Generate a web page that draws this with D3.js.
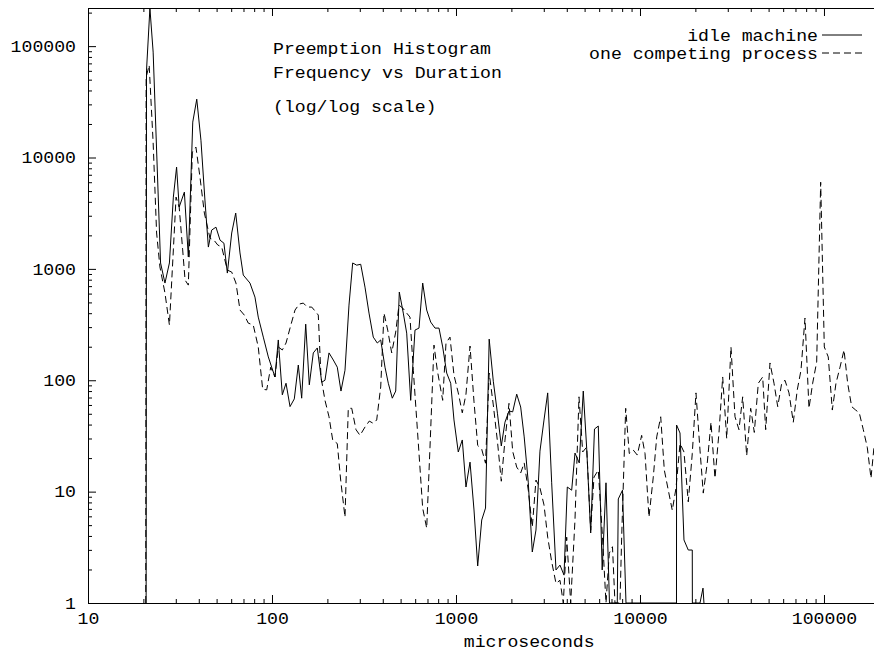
<!DOCTYPE html>
<html>
<head>
<meta charset="utf-8">
<script src="https://cdn.jsdelivr.net/npm/d3@7/dist/d3.min.js"></script>
<style>
body { margin: 0; background: #fff; }
text { font-family: "Liberation Mono", "DejaVu Sans Mono", monospace; font-size: 16px; fill: #000; }
</style>
</head>
<body>
<div id="chart"></div>
<script>
// idle machine: duration (us) / count
var idleDur = [20.7, 20.8, 21.7, 22.6, 24.8, 26.2, 27.7, 29.1, 30.3, 31.3, 33.4, 35.1, 37.1, 39.0, 41.1, 43.2, 45.1, 47.0, 49.6, 52.2,
  54.8, 57.2, 60.4, 63.5, 67.0, 69.8, 75.9, 80.8, 84.2, 89.7, 95.5, 99.6, 103.8, 108.2, 113.8, 119.2, 125.3, 132.2, 139.0, 145.0,
  152.5, 159.5, 167.7, 176.3, 186.3, 194.1, 204.1, 215.4, 226.4, 237.1, 249.3, 262.1, 274.5, 288.6, 303.5, 320.2, 336.7, 355.2, 373.5, 389.8,
  411.3, 428.7, 450.7, 470.3, 491.9, 517.1, 539.6, 567.3, 598.7, 629.4, 659.2, 693.1, 728.7, 769.0, 808.4, 846.7, 890.3, 935.9, 975.2, 1029,
  1082, 1133, 1192, 1253, 1312, 1380, 1447, 1515, 1595, 1681, 1763, 1846, 1941, 2033, 2138, 2247, 2348, 2472, 2598, 2721,
  2860, 3008, 3151, 3312, 3495, 3674, 3864, 4027, 4254, 4434, 4678, 4918, 5132, 5396, 5658, 5934, 6232, 6535, 6826, 7526,
  7622, 8033, 8393, 15790, 15810, 16500, 17340, 18300, 19240, 19260, 21190, 22000, 22270];
var idleCount = [1, 60900, 219000, 88400, 1130, 746, 1130, 4410, 8200, 3590, 4890, 1280, 20800, 33400, 14300, 4150, 1570, 2230, 2370, 1810,
  1700, 917, 2100, 3170, 1390, 880, 746, 558, 369, 244, 162, 131, 107, 230, 74, 94, 58, 68, 137, 69,
  319, 91, 176, 195, 96, 100, 176, 152, 131, 80, 123, 473, 1130, 1080, 1100, 686, 401, 244, 216, 230,
  131, 94, 69, 80, 619, 401, 265, 66, 282, 294, 746, 427, 333, 294, 294, 199, 116, 94, 44, 22.7,
  29.1, 11.0, 18.4, 6.84, 2.15, 5.56, 7.12, 234, 98, 50, 25.7, 42, 53, 52, 75, 57.5, 31, 12, 2.87, 4.52,
  23.1, 43.9, 77, 12, 1.98, 2.19, 1.78, 11.0, 10.3, 22.2, 18.1, 80, 24.6, 4.25, 36.5, 38.8, 1.98, 12, 1, 1,
  8.6, 10.3, 1, 1, 39.6, 33.6, 3.68, 2.99, 2.99, 1, 1, 1.36, 1];

// one competing process: duration (us) / count
var busyDur = [20.6, 20.7, 21.5, 22.6, 23.6, 24.6, 26.2, 27.7, 29.1, 30.1, 31.3, 32.7, 33.7, 35.1, 36.9, 38.6, 40.6, 42.9, 46.0, 48.4,
  50.7, 53.3, 57.2, 60.4, 63.7, 67.0, 70.7, 74.3, 79.1, 84.2, 89.0, 93.6, 98.4, 103.8, 108.2, 113.8, 119.2, 125.3, 133.4, 140.7,
  148.0, 155.5, 164.4, 173.4, 178.5, 184.6, 194.1, 204.1, 213.8, 226.4, 236.2, 249.3, 259.8, 271.3, 286.1, 300.8, 320.2, 337.9, 355.2, 370.7,
  389.8, 406.2, 425.5, 447.3, 470.3, 490.0, 513.2, 539.6, 562.3, 586.2, 624.0, 659.2, 693.1, 722.3, 759.3, 791.5, 846.7, 882.5, 927.7, 975.2,
  1029, 1082, 1133, 1192, 1253, 1312, 1380, 1447, 1515, 1595, 1681, 1763, 1846, 1941, 2033, 2138, 2247, 2348, 2472, 2598,
  2721, 2860, 3008, 3151, 3304, 3495, 3674, 3830, 3996, 4201, 4434, 4661, 4882, 5132, 5396, 5623, 5934, 6255, 6535, 6810,
  7088, 7313, 7785, 7952, 8362, 8746, 9196, 9667, 10210, 10650, 11190, 11810, 12330, 12960, 13560, 14250, 14980, 15700, 16500, 17340,
  18300, 19240, 20150, 21190, 22080, 23210, 24320, 25560, 26880, 28150, 29600, 31230, 32840, 34510, 36150, 38010, 39960, 41810, 43960, 46440,
  48220, 50880, 53500, 56040, 58910, 61380, 64540, 68100, 71590, 74990, 78840, 82880, 86800, 91270, 95960, 100400, 105500, 111000, 116200, 122200,
  128500, 134500, 141400, 148700, 155500, 163600, 171900, 180100, 186900];
var busyCount = [1, 52700, 67500, 13500, 2100, 1040, 607, 313, 1480, 4410, 3590, 1480, 793, 715, 11200, 12400, 6670, 3170, 1890, 1810,
  1640, 1570, 975, 936, 746, 427, 385, 326, 313, 199, 83, 82, 131, 107, 199, 187, 216, 294, 427, 483,
  493, 454, 454, 409, 385, 107, 66, 47, 29, 27, 12.7, 5.9, 56, 56, 36, 32, 38, 43, 41, 44,
  87, 401, 282, 176, 271, 473, 445, 401, 369, 123, 27.3, 7.1, 4.7, 25.1, 207, 123, 66, 216, 244, 111,
  77, 51, 75, 203, 64, 26, 24, 18, 116, 60, 28, 12.4, 29, 62, 23, 16.6, 14.7, 18.1, 10.3, 4.8,
  12.7, 10.8, 7.6, 3.9, 2.4, 1.5, 1.6, 1, 3.9, 1, 5.6, 71, 22.7, 25.1, 4.5, 13.5, 15.6, 3.9, 1, 2.8,
  3.2, 1, 1, 3.9, 56, 22, 23.6, 21.3, 32, 22, 5.9, 13.5, 31, 47, 15.6, 10.3, 6.8, 10.8, 27, 22.7,
  8.1, 22, 77, 23.6, 9.7, 18.1, 42, 13.2, 34, 107, 30, 199, 47, 36, 71, 21, 56, 34, 94, 107,
  36, 143, 94, 58, 94, 100, 77, 42, 82, 123, 362, 56, 94, 146, 6000, 199, 162, 54, 94, 131,
  187, 94, 58, 54, 51, 36, 25, 13.2, 25];

var xTicks = [10, 100, 1000, 10000, 100000];
var yTicks = [1, 10, 100, 1000, 10000, 100000];
var titleLines = ['Preemption Histogram', 'Frequency vs Duration', '(log/log scale)'];
var seriesNames = ['idle machine', 'one competing process'];
var xTitle = 'microseconds';

var charW = 10.9;
function fit(sel) {
  sel.attr("textLength", function() { return this.textContent.length * charW; })
     .attr("lengthAdjust", "spacingAndGlyphs");
}

var margin = {top: 8, right: 0, bottom: 53, left: 88};
var W = 874, H = 656;
var width = W - margin.left - margin.right,
    height = H - margin.top - margin.bottom;

var svg = d3.select("#chart").append("svg")
    .attr("width", W)
    .attr("height", H);
var g = svg.append("g").attr("transform", "translate(" + margin.left + "," + margin.top + ")");

var x = d3.scaleLog().domain([10, 187000]).range([0, width]);
var y = d3.scaleLog().domain([1, 220000]).range([height, 0]);

function minors(scale) {
  var out = [], dom = scale.domain();
  for (var p = 1; p < dom[1] * 10; p *= 10) {
    for (var k = 2; k <= 9; k++) {
      if (k * p >= dom[0] && k * p <= dom[1]) out.push(k * p);
    }
  }
  return out;
}

// axes with inward ticks (gnuplot style)
g.append("g").attr("class", "axis")
    .attr("transform", "translate(0," + height + ")")
    .call(d3.axisBottom(x).tickValues(xTicks).tickSizeInner(-8).tickSizeOuter(0).tickPadding(10).tickFormat(d3.format("d")));
g.append("g").attr("class", "axis")
    .attr("transform", "translate(0," + height + ")")
    .call(d3.axisBottom(x).tickValues(minors(x)).tickSize(-4).tickFormat(""));
g.append("g").attr("class", "axis")
    .call(d3.axisTop(x).tickValues(xTicks).tickSizeInner(-8).tickSizeOuter(0).tickFormat(""));
g.append("g").attr("class", "axis")
    .call(d3.axisTop(x).tickValues(minors(x)).tickSize(-4).tickFormat(""));
g.append("g").attr("class", "axis")
    .call(d3.axisLeft(y).tickValues(yTicks).tickSizeInner(-8).tickSizeOuter(0).tickPadding(12).tickFormat(d3.format("d")));
g.append("g").attr("class", "axis")
    .call(d3.axisLeft(y).tickValues(minors(y)).tickSize(-4).tickFormat(""));

g.selectAll(".axis path, .axis line").attr("stroke", "#000").attr("stroke-width", 1);
g.selectAll(".axis text").attr("font-family", null).attr("font-size", null);
fit(g.selectAll(".axis text"));

g.append("text")
    .attr("x", x(2500))
    .attr("y", height + 44)
    .attr("text-anchor", "middle")
    .text(xTitle)
    .call(fit);

// data lines
svg.append("clipPath").attr("id", "plot").append("rect")
    .attr("width", width).attr("height", height);

var line = d3.line()
    .x(function(d) { return x(d[0]); })
    .y(function(d) { return y(d[1]); });

var series = [
  {name: seriesNames[0], dur: idleDur, count: idleCount, dash: null},
  {name: seriesNames[1], dur: busyDur, count: busyCount, dash: "7,4"}
];

g.append("g").attr("clip-path", "url(#plot)")
  .selectAll("path")
  .data(series)
  .enter().append("path")
    .attr("fill", "none")
    .attr("stroke", "#000")
    .attr("stroke-width", 1)
    .attr("stroke-dasharray", function(d) { return d.dash; })
    .attr("d", function(d) { return line(d.dur.map(function(v, i) { return [v, d.count[i]]; })); });

// title block
g.selectAll(".title")
  .data(titleLines)
  .enter().append("text")
    .attr("class", "title")
    .attr("x", 185)
    .attr("y", function(d, i) { return [40, 64, 98][i]; })
    .attr("dy", "0.35em")
    .text(function(d) { return d; })
    .call(fit);

// legend
var legend = g.selectAll(".legend")
  .data(series)
  .enter().append("g")
    .attr("class", "legend")
    .attr("transform", function(d, i) { return "translate(0," + (27 + i * 18) + ")"; });

legend.append("text")
    .attr("x", 730)
    .attr("dy", "0.35em")
    .attr("text-anchor", "end")
    .text(function(d) { return d.name; })
    .call(fit);

legend.append("line")
    .attr("x1", 734)
    .attr("x2", 774)
    .attr("stroke", "#000")
    .attr("stroke-dasharray", function(d) { return d.dash; });
</script>
</body>
</html>
